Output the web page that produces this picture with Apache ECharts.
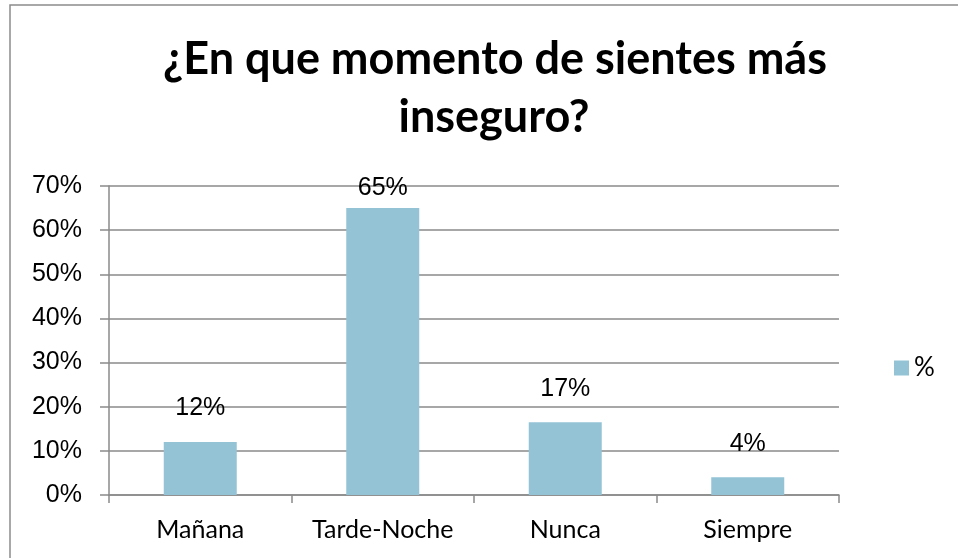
<!DOCTYPE html>
<html>
<head>
<meta charset="utf-8">
<script src="https://cdn.jsdelivr.net/npm/echarts@6/dist/echarts.min.js"></script>
<style>
  html, body { margin: 0; padding: 0; background: #fff; }
  #chart { width: 958px; height: 558px; }
</style>
</head>
<body>
<div id="chart"></div>
<script>
// data
const categories = ['Mañana', 'Tarde-Noche', 'Nunca', 'Siempre'];
const values = [0.12, 0.65, 0.165, 0.04];
const seriesName = '%';
const titleLines = ['¿En que momento de sientes más', 'inseguro?'];

const axisGrey = '#8a8a8a';
const barColor = '#93c3d5';
const pct = (v) => Math.round(v * 100) + '%';
const titleFont = { fontFamily: 'Lato', fontWeight: 'bold', fontSize: 45, color: '#000' };

const chart = echarts.init(document.getElementById('chart'), null, { renderer: 'canvas' });

chart.setOption({
  animation: false,
  title: [
    { text: titleLines[0], left: 490, top: 32, textAlign: 'center', textStyle: titleFont },
    { text: titleLines[1], left: 489, top: 90, textAlign: 'center', textStyle: titleFont },
  ],
  graphic: [
    {
      type: 'rect',
      shape: { x: 10, y: 5, width: 1000, height: 700 },
      style: { fill: 'none', stroke: '#8c8c8c', lineWidth: 1.5 },
      silent: true,
    },
  ],
  legend: {
    data: [seriesName],
    left: 889,
    top: 350,
    orient: 'vertical',
    itemWidth: 15,
    itemHeight: 15,
    itemGap: 6,
    icon: 'rect',
    textStyle: { fontFamily: 'Lato', fontSize: 26, color: '#000', padding: [6, 0, 0, 0] },
  },
  grid: {
    left: 109,
    right: 119,
    top: 186,
    bottom: 63,
  },
  xAxis: {
    type: 'category',
    data: categories,
    axisLine: { lineStyle: { color: axisGrey, width: 1.5 } },
    axisTick: { show: true, length: 8, lineStyle: { color: axisGrey, width: 1.5 } },
    axisLabel: { interval: 0, color: '#000', fontFamily: 'Lato', fontSize: 25, margin: 22 },
  },
  yAxis: {
    type: 'value',
    min: 0,
    max: 0.7,
    interval: 0.1,
    axisLine: { show: true, lineStyle: { color: axisGrey, width: 1.5 } },
    axisTick: { show: true, length: 9, lineStyle: { color: axisGrey, width: 1.5 } },
    splitLine: { lineStyle: { color: axisGrey, width: 1.5 } },
    axisLabel: {
      color: '#000',
      fontFamily: 'Liberation Sans',
      fontSize: 25,
      margin: 27,
      formatter: pct,
    },
  },
  series: [
    {
      name: seriesName,
      type: 'bar',
      barWidth: '40%',
      itemStyle: { color: barColor },
      // tall bar: label is squeezed down so it stays inside the plot area
      data: values.map((v) => (v > 0.6 ? { value: v, label: { distance: 7 } } : v)),
      label: {
        show: true,
        position: 'top',
        distance: 21,
        color: '#000',
        fontFamily: 'Liberation Sans',
        fontSize: 25,
        formatter: (p) => pct(p.value),
      },
    },
  ],
});
</script>
</body>
</html>
